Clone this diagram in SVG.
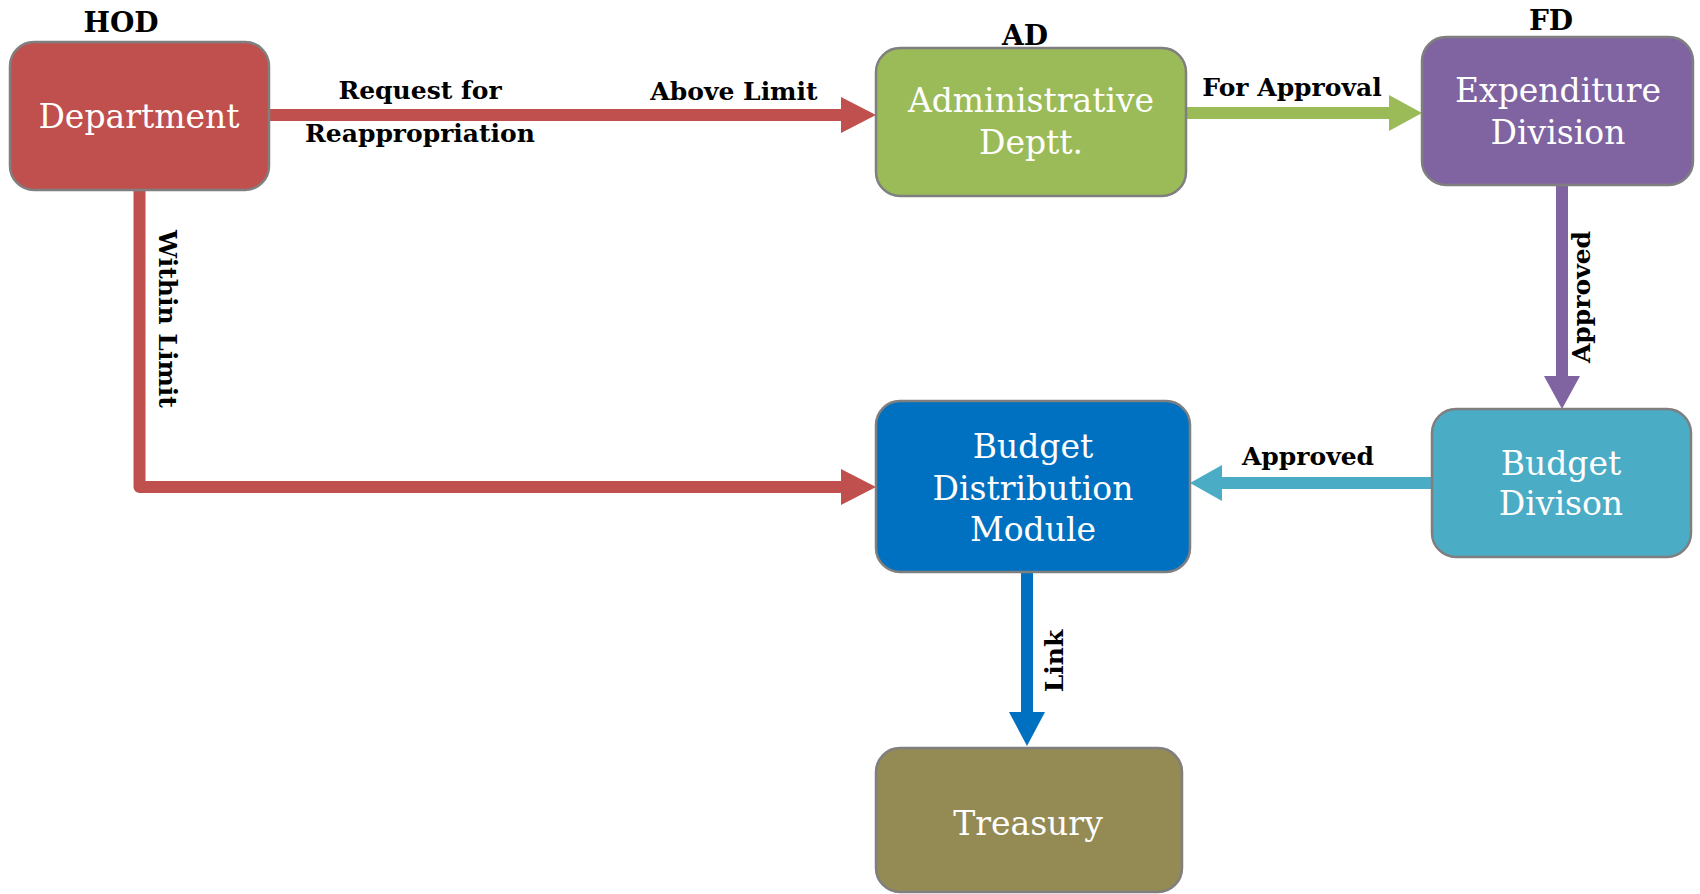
<svg xmlns="http://www.w3.org/2000/svg" width="1700" height="894" viewBox="0 0 1700 894">
<style>
.box{stroke:#7F7F7F;stroke-width:2.5}
.nt{font-family:"DejaVu Serif","Liberation Serif",serif;font-size:33px;fill:#FFFFFF;text-anchor:middle}
.lb{font-family:"DejaVu Serif","Liberation Serif",serif;font-size:25px;font-weight:bold;fill:#000000;text-anchor:middle}
.hd{font-family:"DejaVu Serif","Liberation Serif",serif;font-size:28px;font-weight:bold;fill:#000000;text-anchor:middle}
.cn{fill:none;stroke-width:12;stroke-linejoin:round}
</style>
<defs>
<marker id="hRed" markerUnits="userSpaceOnUse" markerWidth="35" markerHeight="36" viewBox="0 0 35 36" refX="0" refY="18" orient="auto"><path d="M0,0 L35,18 L0,36 Z" fill="#C0504D"/></marker>
<marker id="hGreen" markerUnits="userSpaceOnUse" markerWidth="33" markerHeight="36" viewBox="0 0 33 36" refX="0" refY="18" orient="auto"><path d="M0,0 L33,18 L0,36 Z" fill="#9BBB59"/></marker>
<marker id="hPurple" markerUnits="userSpaceOnUse" markerWidth="33" markerHeight="36" viewBox="0 0 33 36" refX="0" refY="18" orient="auto"><path d="M0,0 L33,18 L0,36 Z" fill="#8064A2"/></marker>
<marker id="hCyan" markerUnits="userSpaceOnUse" markerWidth="32" markerHeight="36" viewBox="0 0 32 36" refX="0" refY="18" orient="auto"><path d="M0,0 L32,18 L0,36 Z" fill="#4BACC6"/></marker>
<marker id="hBlue" markerUnits="userSpaceOnUse" markerWidth="34" markerHeight="36" viewBox="0 0 34 36" refX="0" refY="18" orient="auto"><path d="M0,0 L34,18 L0,36 Z" fill="#0070C0"/></marker>
</defs>
<rect width="1700" height="894" fill="#FFFFFF"/>
<g id="connectors">
<path class="cn" d="M269,115 H841" stroke="#C0504D" marker-end="url(#hRed)"/>
<path class="cn" d="M139.5,190 V487 H841" stroke="#C0504D" marker-end="url(#hRed)"/>
<path class="cn" d="M1186,113 H1389" stroke="#9BBB59" marker-end="url(#hGreen)"/>
<path class="cn" d="M1562,185 V376" stroke="#8064A2" marker-end="url(#hPurple)"/>
<path class="cn" d="M1432,483 H1222" stroke="#4BACC6" marker-end="url(#hCyan)"/>
<path class="cn" d="M1027,572 V712" stroke="#0070C0" marker-end="url(#hBlue)"/>
<text class="lb" x="420" y="99">Request for</text>
<text class="lb" x="420" y="142">Reappropriation</text>
<text class="lb" x="734" y="100">Above Limit</text>
<text class="lb" x="1292" y="96">For Approval</text>
<text class="lb" x="1308" y="465">Approved</text>
<text class="lb" transform="translate(159,319) rotate(90)">Within Limit</text>
<text class="lb" transform="translate(1590,297) rotate(-90)">Approved</text>
<text class="lb" transform="translate(1063,661) rotate(-90)">Link</text>
</g>
<g id="department">
<text class="hd" x="121" y="32">HOD</text>
<rect class="box" x="10" y="42" width="259" height="148" rx="24" fill="#C0504D"/>
<text class="nt" x="139" y="128">Department</text>
</g>
<g id="administrative">
<text class="hd" x="1025" y="45">AD</text>
<rect class="box" x="876" y="48" width="310" height="148" rx="24" fill="#9BBB59"/>
<text class="nt" x="1031" y="112">Administrative</text>
<text class="nt" x="1031" y="154">Deptt.</text>
</g>
<g id="expenditure">
<text class="hd" x="1551" y="30">FD</text>
<rect class="box" x="1422" y="37" width="271" height="148" rx="24" fill="#8064A2"/>
<text class="nt" x="1558" y="102">Expenditure</text>
<text class="nt" x="1558" y="144">Division</text>
</g>
<g id="budget-division">
<rect class="box" x="1432" y="409" width="259" height="148" rx="24" fill="#4BACC6"/>
<text class="nt" x="1561" y="475">Budget</text>
<text class="nt" x="1561" y="515">Divison</text>
</g>
<g id="bdm">
<rect class="box" x="876" y="401" width="314" height="171" rx="24" fill="#0070C0"/>
<text class="nt" x="1033" y="458">Budget</text>
<text class="nt" x="1033" y="500">Distribution</text>
<text class="nt" x="1033" y="541">Module</text>
</g>
<g id="treasury">
<rect class="box" x="876" y="748" width="306" height="144" rx="24" fill="#948A54"/>
<text class="nt" x="1028" y="835">Treasury</text>
</g>
</svg>
